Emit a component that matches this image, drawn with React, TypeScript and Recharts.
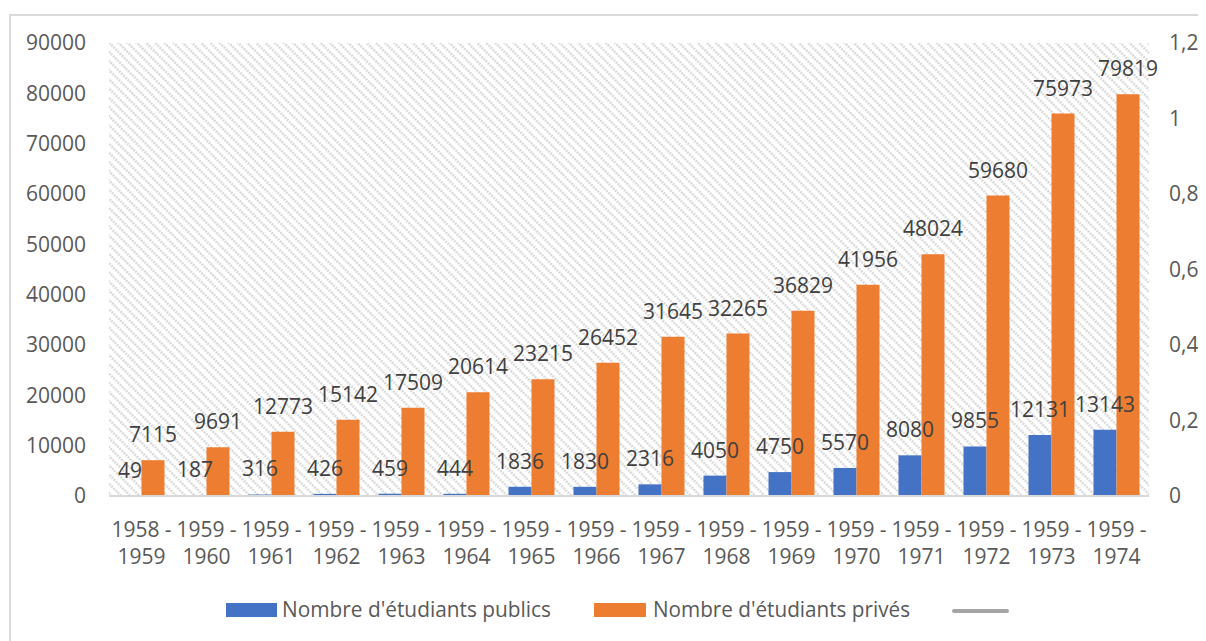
import React from "react";
import {
  ComposedChart,
  Bar,
  Line,
  XAxis,
  YAxis,
  CartesianGrid,
  LabelList,
} from "recharts";

const categories = [
  "1958 - 1959",
  "1959 - 1960",
  "1959 - 1961",
  "1959 - 1962",
  "1959 - 1963",
  "1959 - 1964",
  "1959 - 1965",
  "1959 - 1966",
  "1959 - 1967",
  "1959 - 1968",
  "1959 - 1969",
  "1959 - 1970",
  "1959 - 1971",
  "1959 - 1972",
  "1959 - 1973",
  "1959 - 1974",
];

const publics = [49, 187, 316, 426, 459, 444, 1836, 1830, 2316, 4050, 4750, 5570, 8080, 9855, 12131, 13143];
const prives = [7115, 9691, 12773, 15142, 17509, 20614, 23215, 26452, 31645, 32265, 36829, 41956, 48024, 59680, 75973, 79819];
const autre: (number | null)[] = [null, null, null, null, null, null, null, null, null, null, null, null, null, null, null, null];

const leftTicks = [0, 10000, 20000, 30000, 40000, 50000, 60000, 70000, 80000, 90000];
const rightTicks = [0, 0.2, 0.4, 0.6, 0.8, 1, 1.2];

const seriesNames = ["Nombre d'étudiants publics", "Nombre d'étudiants privés", ""];
const seriesColors = ["#4472C4", "#ED7D31", "#A5A5A5"];

const data = categories.map((c, i) => ({
  cat: c,
  publics: publics[i],
  prives: prives[i],
  autre: autre[i],
}));

const FONT = "'Open Sans', sans-serif";

const XTick = (props: any) => {
  const { x, y, payload } = props;
  const parts = String(payload.value).split(" - ");
  return (
    <text x={x} y={y} textAnchor="middle" fill="#595959" fontSize={21} fontFamily={FONT}>
      <tspan x={x} dy={41}>{parts[0] + " -"}</tspan>
      <tspan x={x} dy={27}>{parts[1]}</tspan>
    </text>
  );
};

export default function App() {
  return (
    <div style={{ position: "relative", width: 1198, height: 633, overflow: "hidden", fontFamily: FONT }}>
      <svg width={0} height={0} style={{ position: "absolute" }}>
        <defs>
          <pattern id="hatch" width={6.5} height={6} patternUnits="userSpaceOnUse" patternTransform="rotate(-45)">
            <rect width={6.5} height={6} fill="#ffffff" />
            <line x1={1.5} y1={0} x2={1.5} y2={6} stroke="#D6D6D6" strokeWidth={2.3} strokeDasharray="2 1" />
          </pattern>
        </defs>
      </svg>
      <div
        style={{
          position: "absolute",
          left: 1,
          top: 6,
          width: 1300,
          height: 700,
          border: "2px solid #D9D9D9",
          boxSizing: "border-box",
        }}
      />
      <div style={{ position: "absolute", left: 0, top: 0 }}>
        <ComposedChart
          width={1198}
          height={633}
          data={data}
          margin={{ top: 35, right: 0, left: 0, bottom: 65 }}
          barCategoryGap="14.6%"
          barGap={0}
        >
          <CartesianGrid horizontal={false} vertical={false} fill="url(#hatch)" />
          <XAxis
            dataKey="cat"
            height={80}
            interval={0}
            tick={<XTick />}
            tickLine={false}
            tickSize={0}
            tickMargin={0}
            axisLine={{ stroke: "#D9D9D9", strokeWidth: 2 }}
          />
          <YAxis
            yAxisId="left"
            orientation="left"
            width={101}
            domain={[0, 90000]}
            ticks={leftTicks}
            interval={0}
            axisLine={false}
            tickLine={false}
            tickSize={0}
            tickMargin={23}
            tick={{ fill: "#595959", fontSize: 21, fontFamily: FONT }}
          />
          <YAxis
            yAxisId="right"
            orientation="right"
            type="number"
            width={57}
            domain={[0, 1.2]}
            allowDataOverflow={true}
            ticks={rightTicks}
            interval={0}
            axisLine={false}
            tickLine={false}
            tickSize={0}
            tickMargin={20}
            tick={{ fill: "#595959", fontSize: 21, fontFamily: FONT }}
            tickFormatter={(v: number) => String(Math.round(v * 10) / 10).replace(".", ",")}
          />
          <Bar yAxisId="left" dataKey="publics" name={seriesNames[0]} fill={seriesColors[0]} isAnimationActive={false}>
            <LabelList dataKey="publics" position="top" offset={18} fill="#404040" fontSize={21} fontFamily={FONT} />
          </Bar>
          <Bar yAxisId="left" dataKey="prives" name={seriesNames[1]} fill={seriesColors[1]} isAnimationActive={false}>
            <LabelList dataKey="prives" position="top" offset={18} fill="#404040" fontSize={21} fontFamily={FONT} />
          </Bar>
          <Line
            yAxisId="right"
            dataKey="autre"
            name={seriesNames[2]}
            stroke={seriesColors[2]}
            strokeWidth={3}
            dot={false}
            isAnimationActive={false}
          />
        </ComposedChart>
      </div>
      <svg width={1198} height={633} style={{ position: "absolute", left: 0, top: 0, pointerEvents: "none" }}>
        <rect x={218} y={595} width={51} height={14} fill={seriesColors[0]} />
        <text x={274} y={609} fontSize={21} fill="#595959" fontFamily={FONT} textLength={269} lengthAdjust="spacingAndGlyphs">
          {seriesNames[0]}
        </text>
        <rect x={586} y={595} width={52} height={14} fill={seriesColors[1]} />
        <text x={645} y={609} fontSize={21} fill="#595959" fontFamily={FONT} textLength={257} lengthAdjust="spacingAndGlyphs">
          {seriesNames[1]}
        </text>
        <line x1={946} y1={603} x2={999} y2={603} stroke={seriesColors[2]} strokeWidth={4} strokeLinecap="round" />
      </svg>
    </div>
  );
}
